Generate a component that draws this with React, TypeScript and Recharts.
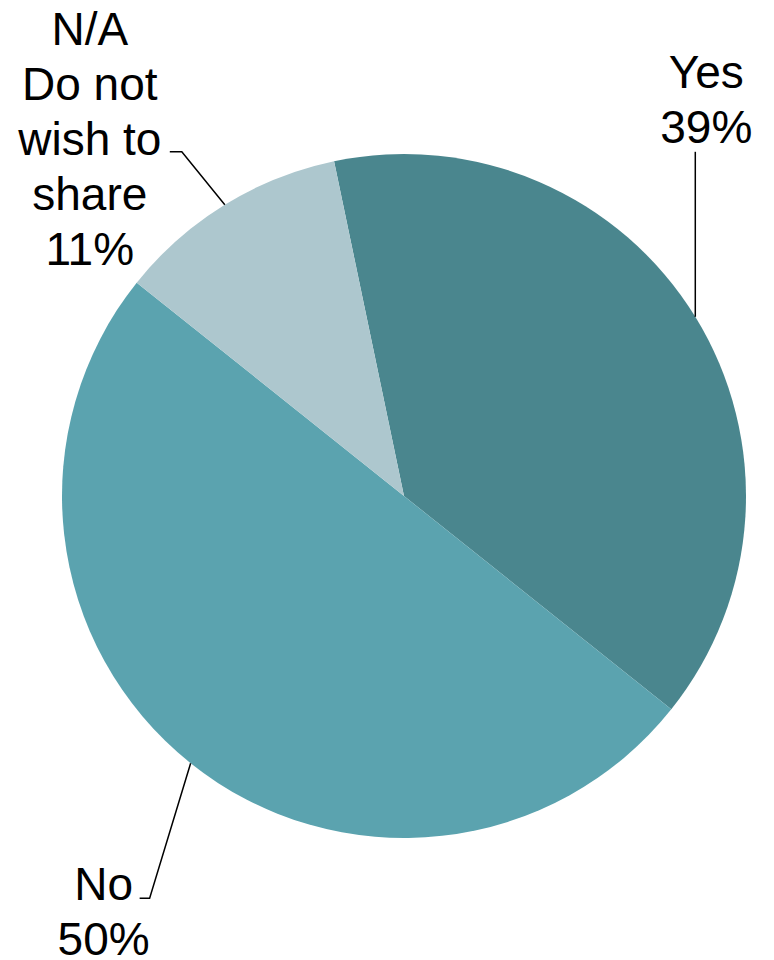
import React from "react";
import { PieChart, Pie, Cell } from "recharts";

const categories = ["Yes", "No", "N/A\nDo not\nwish to\nshare"];
const values = [39, 50, 11];
const colors = ["#4A868E", "#5BA3AF", "#ADC7CE"];

const data = categories.map((name, i) => ({ name, value: values[i] }));

// label layout offsets relative to the slice's outer-edge midpoint
const labelLayout = [
  { elbow: [0, -165], end: [0, -165], textDx: 11, firstDy: -229 },
  { elbow: [-41, 135], end: [-51, 135], textDx: -87, firstDy: 137 },
  { elbow: [-43, -53], end: [-55, -53], textDx: -135, firstDy: -160 },
];
const LINE_H = 55;
const RAD = Math.PI / 180;

const renderLabel = (props: any) => {
  const { cx, cy, midAngle, outerRadius, index, name, percent } = props;
  const ex = cx + outerRadius * Math.cos(-midAngle * RAD);
  const ey = cy + outerRadius * Math.sin(-midAngle * RAD);
  const L = labelLayout[index];
  const lines = [...String(name).split("\n"), `${Math.round(percent * 100)}%`];
  const pts = `${ex},${ey} ${ex + L.elbow[0]},${ey + L.elbow[1]} ${ex + L.end[0]},${ey + L.end[1]}`;
  return (
    <g key={`lbl-${index}`}>
      <polyline points={pts} fill="none" stroke="#000" strokeWidth={1.5} />
      <text
        x={ex + L.textDx}
        y={ey + L.firstDy}
        textAnchor="middle"
        fill="#000"
        fontSize={46}
        fontFamily="'Liberation Sans', Arial, sans-serif"
      >
        {lines.map((t, i) => (
          <tspan key={i} x={ex + L.textDx} y={ey + L.firstDy + i * LINE_H}>
            {t}
          </tspan>
        ))}
      </text>
    </g>
  );
};

export default function App() {
  return (
    <div style={{ position: "absolute", left: 0, top: 0, width: 774, height: 960, background: "#fff" }}>
      <PieChart width={774} height={960} margin={{ top: 0, right: 0, bottom: 0, left: 0 }}>
        <Pie
          data={data}
          dataKey="value"
          nameKey="name"
          cx={404}
          cy={496}
          outerRadius={342}
          startAngle={101.8}
          endAngle={-258.2}
          stroke="none"
          label={renderLabel}
          labelLine={false}
          isAnimationActive={false}
        >
          {data.map((d, i) => (
            <Cell key={d.name} fill={colors[i]} />
          ))}
        </Pie>
      </PieChart>
    </div>
  );
}
